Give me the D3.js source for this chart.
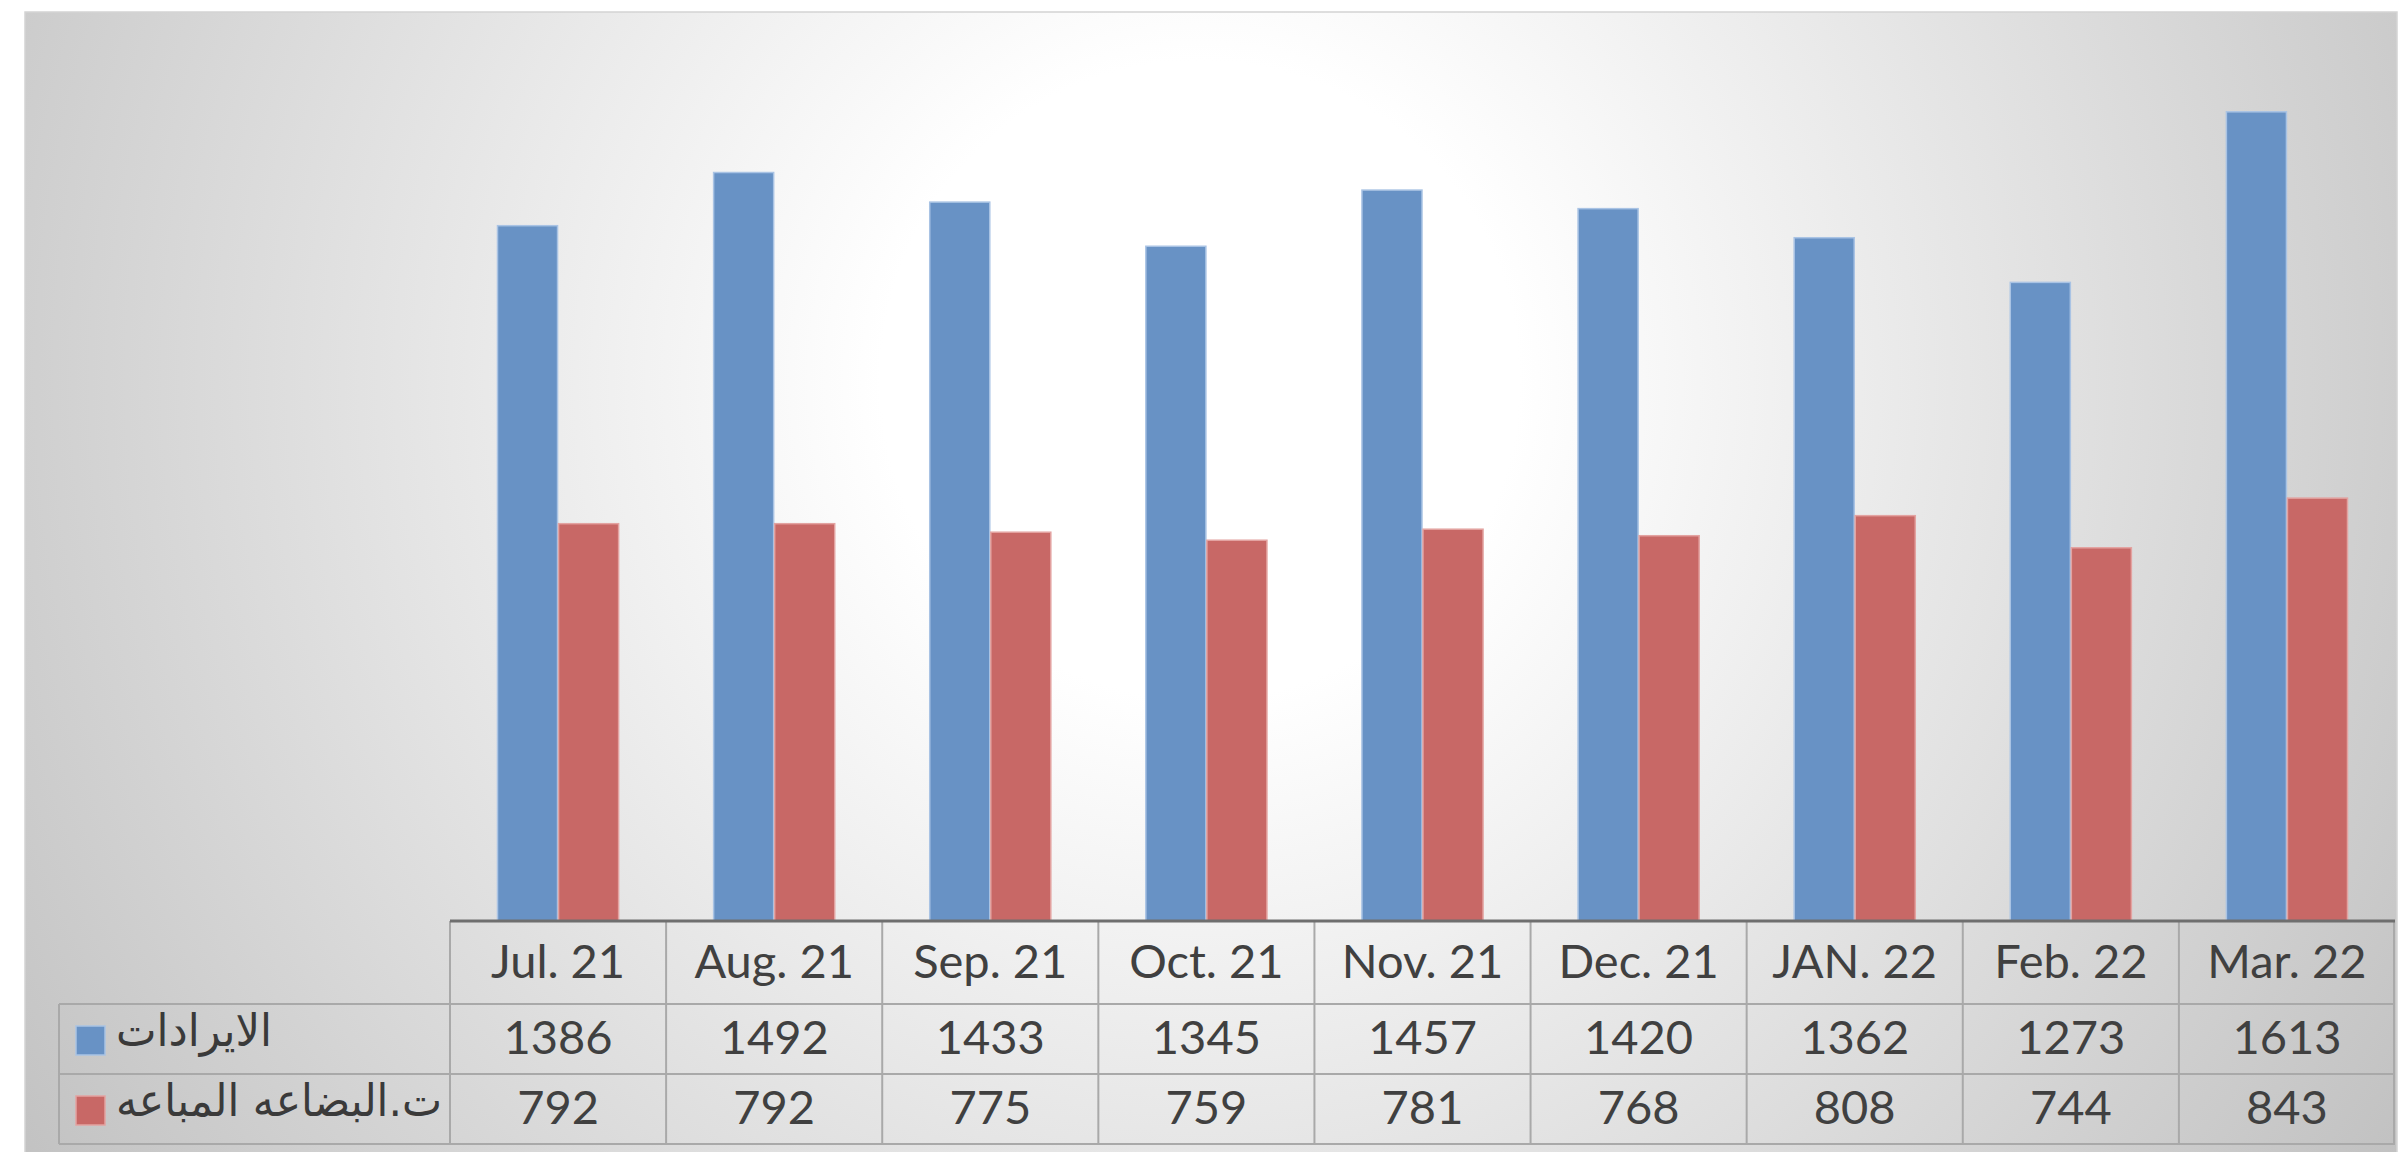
<!DOCTYPE html>
<meta charset="utf-8">
<style>
body { margin: 0; background: #fff; }
svg { display: block; }
.cell { font-family: Lato, "Open Sans", sans-serif; fill: #404040; }
.label { font-family: "DejaVu Sans", sans-serif; fill: #3a3a3a; }
</style>
<body>
<script src="https://cdnjs.cloudflare.com/ajax/libs/d3/7.8.5/d3.min.js"></script>
<script>

// data
var months = ["Jul. 21", "Aug. 21", "Sep. 21", "Oct. 21", "Nov. 21", "Dec. 21", "JAN. 22", "Feb. 22", "Mar. 22"];
var revenue = [1386, 1492, 1433, 1345, 1457, 1420, 1362, 1273, 1613];
var cogs = [792, 792, 775, 759, 781, 768, 808, 744, 843];
var seriesNames = ["الايرادات", "ت.البضاعه المباعه"];
var seriesColors = ["#6892c5", "#c86866"];
var seriesEdges = ["#a9c3e4", "#e3a3a1"];

var width = 2407, height = 1152;
var axisY = 921, rowLines = [921, 1004, 1074, 1144];
var tableLeft = 450, tableRight = 2395, labelLeft = 59;

var svg = d3.select("body").append("svg")
    .attr("width", width)
    .attr("height", height);

var defs = svg.append("defs");
var bg = defs.append("radialGradient")
    .attr("id", "bg")
    .attr("gradientUnits", "userSpaceOnUse")
    .attr("cx", 1200).attr("cy", 380).attr("r", 1450);
bg.append("stop").attr("offset", "0%").attr("stop-color", "#ffffff");
bg.append("stop").attr("offset", "22%").attr("stop-color", "#ffffff");
bg.append("stop").attr("offset", "100%").attr("stop-color", "#c0c0c0");

svg.append("rect")
    .attr("x", 25).attr("y", 12)
    .attr("width", 2372).attr("height", 1150)
    .style("fill", "url(#bg)")
    .style("stroke", "#d4d4d4")
    .style("stroke-width", 1.5);

var x0 = d3.scaleBand().domain(months).range([tableLeft, tableRight]);
var x1 = d3.scaleBand().domain([0, 1]).range([0, x0.bandwidth()]).paddingOuter(0.77);
var y = d3.scaleLinear().domain([0, 1800]).range([axisY, 18]);

var series = [revenue, cogs];

// bars
var groups = svg.append("g").selectAll("g")
    .data(months)
  .enter().append("g")
    .attr("transform", function(d) { return "translate(" + x0(d) + ",0)"; });

groups.selectAll("rect")
    .data(function(d, i) { return series.map(function(s, k) { return {k: k, v: s[i]}; }); })
  .enter().append("rect")
    .attr("x", function(d) { return x1(d.k) + 0.5; })
    .attr("width", x1.bandwidth() - 1)
    .attr("y", function(d) { return y(d.v); })
    .attr("height", function(d) { return axisY - y(d.v); })
    .style("fill", function(d) { return seriesColors[d.k]; })
    .style("stroke", function(d) { return seriesEdges[d.k]; })
    .style("stroke-width", 1.5);

// data table grid
var grid = svg.append("g").style("stroke", "#a9a9a9").style("stroke-width", 2).style("fill", "none");
grid.append("line").attr("x1", tableLeft).attr("x2", tableRight).attr("y1", rowLines[3]).attr("y2", rowLines[3]);
grid.append("line").attr("x1", labelLeft).attr("x2", tableRight).attr("y1", rowLines[1]).attr("y2", rowLines[1]);
grid.append("line").attr("x1", labelLeft).attr("x2", tableRight).attr("y1", rowLines[2]).attr("y2", rowLines[2]);
grid.append("line").attr("x1", labelLeft).attr("x2", tableLeft).attr("y1", rowLines[3]).attr("y2", rowLines[3]);
grid.append("line").attr("x1", labelLeft).attr("x2", labelLeft).attr("y1", rowLines[1]).attr("y2", rowLines[3]);
grid.selectAll(".v")
    .data(months.concat(["end"]))
  .enter().append("line")
    .attr("x1", function(d) { return d === "end" ? tableRight - 1 : x0(d); })
    .attr("x2", function(d) { return d === "end" ? tableRight - 1 : x0(d); })
    .attr("y1", axisY).attr("y2", rowLines[3]);

// axis line on top of the table
svg.append("line")
    .attr("x1", tableLeft).attr("x2", tableRight)
    .attr("y1", axisY).attr("y2", axisY)
    .style("stroke", "#6f6f6f").style("stroke-width", 3);

// header row
svg.append("g").selectAll("text")
    .data(months)
  .enter().append("text")
    .attr("class", "cell")
    .attr("x", function(d) { return x0(d) + x0.bandwidth() / 2; })
    .attr("y", 978)
    .attr("text-anchor", "middle")
    .style("font-size", "47px")
    .text(function(d) { return d; });

// value rows
var baselines = [1054, 1124];
var labelWidths = [156, 326];
series.forEach(function(s, k) {
  svg.append("g").selectAll("text")
      .data(s)
    .enter().append("text")
      .attr("class", "cell")
      .attr("x", function(d, i) { return x0(months[i]) + x0.bandwidth() / 2; })
      .attr("y", baselines[k])
      .attr("text-anchor", "middle")
      .style("font-size", "47px")
      .text(function(d) { return d; });

  svg.append("rect")
      .attr("x", 76).attr("y", baselines[k] - 28)
      .attr("width", 29).attr("height", 29)
      .style("fill", seriesColors[k])
      .style("stroke", seriesEdges[k])
      .style("stroke-width", 1.5);

  svg.append("text")
      .attr("class", "label")
      .attr("x", 116)
      .attr("y", baselines[k] - 8)
      .attr("textLength", labelWidths[k])
      .attr("lengthAdjust", "spacingAndGlyphs")
      .style("font-size", "45px")
      .text(seriesNames[k]);
});

</script>
</body>
